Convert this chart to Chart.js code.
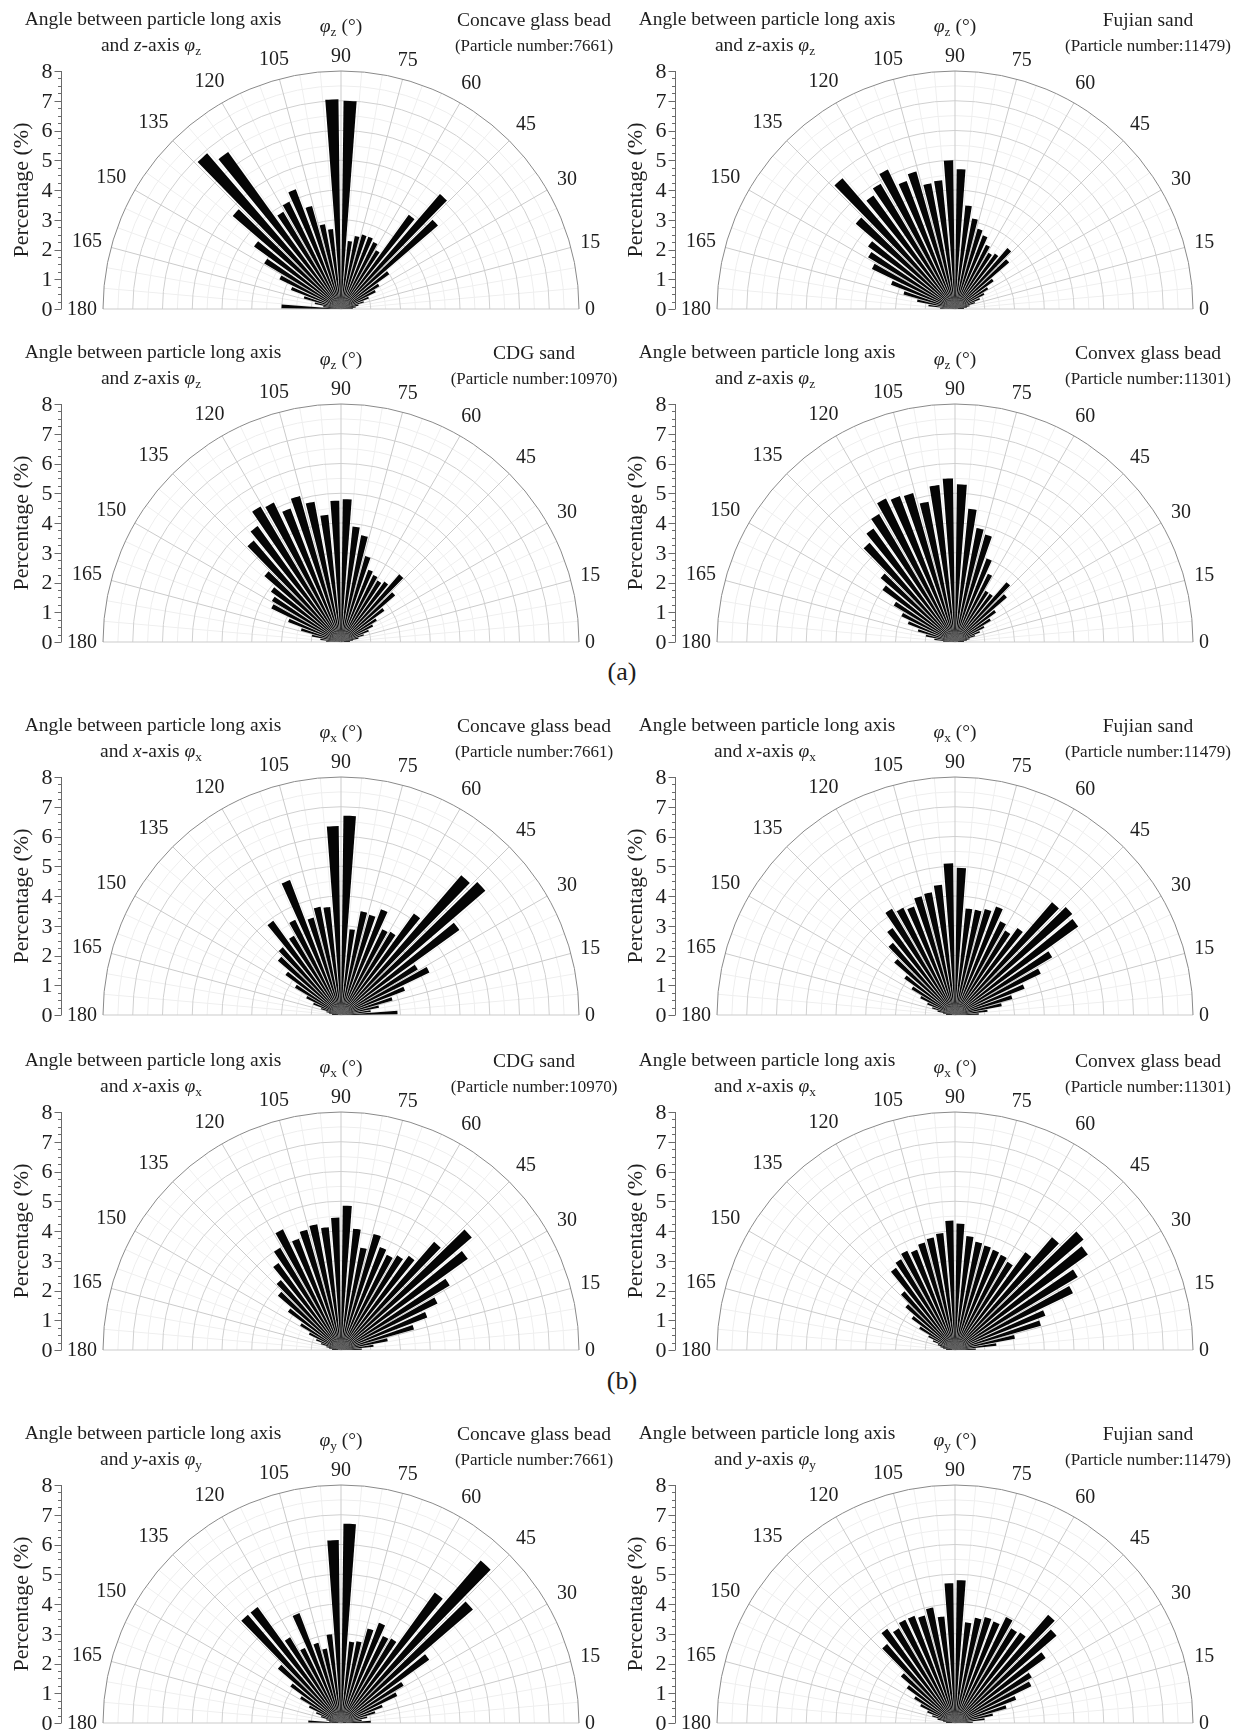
<!DOCTYPE html>
<html>
<head>
<meta charset="utf-8">
<script src="https://cdn.jsdelivr.net/npm/chart.js@4.4.1/dist/chart.umd.min.js"></script>
<style>
html, body { margin: 0; padding: 0; background: #fff; width: 1241px; height: 1733px; overflow: hidden; }
body { position: relative; font-family: "Liberation Serif", "Times New Roman", serif; color: #1e1e1e; }
canvas { position: absolute; }
.lbl { position: absolute; transform: translate(-50%, -50%); white-space: nowrap; line-height: 1; }
.big { font-size: 19.5px; }
.small { font-size: 17px; }
.fig { font-size: 26px; }
sub { font-size: 68%; vertical-align: -0.28em; line-height: 0; }
</style>
</head>
<body>
<script>
// bins of 5 degrees, 0..180
var binCentres = [2.5, 7.5, 12.5, 17.5, 22.5, 27.5, 32.5, 37.5, 42.5, 47.5, 52.5, 57.5,
                  62.5, 67.5, 72.5, 77.5, 82.5, 87.5, 92.5, 97.5, 102.5, 107.5, 112.5, 117.5,
                  122.5, 127.5, 132.5, 137.5, 142.5, 147.5, 152.5, 157.5, 162.5, 167.5, 172.5, 177.5];
var angleTicks = [0, 15, 30, 45, 60, 75, 90, 105, 120, 135, 150, 165, 180];
var pctTicks = [0, 1, 2, 3, 4, 5, 6, 7, 8];

// percentages, one value per bin (2.5 .. 177.5)
var concaveZ = [0.4, 0.5, 0.6, 0.8, 1.0, 1.3, 1.5, 2.0, 4.3, 5.1, 3.9, 2.3,
                2.5, 2.6, 2.6, 2.5, 2.3, 7.0, 7.05, 2.7, 2.9, 3.6, 4.3, 4.0,
                3.8, 6.5, 6.9, 4.8, 3.6, 3.0, 2.3, 1.8, 1.3, 0.9, 0.6, 2.0];
var fujianZ = [0.3, 0.4, 0.5, 0.7, 0.9, 1.1, 1.3, 1.6, 2.4, 2.7, 2.3, 2.2,
               2.4, 2.65, 2.8, 3.1, 3.5, 4.7, 5.0, 4.35, 4.3, 4.8, 4.6, 5.2,
               4.9, 4.7, 5.8, 4.4, 3.6, 3.4, 3.1, 2.3, 1.8, 1.3, 0.9, 0.5];
var cdgZ = [0.3, 0.4, 0.6, 0.8, 1.0, 1.2, 1.4, 1.8, 2.4, 3.0, 2.5, 2.4,
            2.5, 2.6, 3.0, 3.65, 3.9, 4.8, 4.75, 4.3, 4.8, 5.1, 4.8, 5.2,
            5.3, 4.8, 4.5, 3.4, 2.9, 2.7, 2.6, 1.9, 1.4, 1.0, 0.7, 0.5];
var convexZ = [0.3, 0.4, 0.5, 0.7, 0.9, 1.1, 1.4, 1.7, 2.3, 2.65, 2.0, 2.0,
               2.55, 3.0, 3.75, 3.9, 4.5, 5.3, 5.5, 5.3, 4.8, 5.2, 5.25, 5.35,
               5.0, 4.7, 4.4, 3.3, 3.0, 2.4, 2.0, 1.7, 1.3, 1.0, 0.7, 0.4];
var concaveX = [1.9, 1.0, 1.3, 1.8, 2.3, 3.3, 3.0, 4.9, 6.4, 6.2, 4.2, 3.25,
                3.2, 3.8, 3.5, 3.55, 2.9, 6.7, 6.35, 3.65, 3.7, 3.4, 4.85, 3.55,
                3.1, 3.9, 3.0, 2.8, 2.3, 1.8, 1.3, 1.0, 0.7, 0.5, 0.4, 0.3];
var fujianX = [0.8, 1.1, 1.6, 2.0, 2.5, 3.2, 3.8, 5.1, 5.2, 5.0, 3.6, 3.3,
               3.5, 3.9, 3.7, 3.6, 3.6, 4.95, 5.1, 4.4, 4.2, 4.15, 3.9, 4.0,
               4.15, 3.6, 3.2, 2.7, 2.1, 1.7, 1.3, 1.0, 0.8, 0.6, 0.4, 0.3];
var cdgX = [0.7, 1.1, 1.6, 2.55, 3.1, 3.6, 4.25, 5.25, 5.8, 4.8, 3.9, 3.7,
            3.55, 3.7, 4.05, 3.5, 4.1, 4.85, 4.45, 4.15, 4.3, 4.2, 4.0, 4.5,
            4.0, 3.6, 3.1, 2.8, 2.2, 1.6, 1.2, 0.9, 0.7, 0.5, 0.4, 0.3];
var convexX = [0.7, 1.4, 2.05, 3.0, 3.25, 4.4, 4.8, 5.5, 5.7, 5.0, 4.05, 3.45,
               3.55, 3.6, 3.65, 3.7, 3.85, 4.25, 4.35, 3.95, 3.85, 3.75, 3.6, 3.7,
               3.55, 3.4, 2.6, 2.2, 1.8, 1.4, 1.0, 0.8, 0.6, 0.5, 0.4, 0.3];
var concaveY = [1.0, 0.7, 0.9, 1.2, 1.5, 2.1, 2.45, 3.65, 5.85, 7.2, 5.4, 3.3,
                3.25, 3.6, 3.3, 2.8, 2.75, 6.7, 6.15, 3.0, 2.55, 2.8, 3.95, 2.8,
                3.35, 4.8, 4.8, 2.8, 2.1, 1.6, 1.2, 0.9, 0.7, 0.5, 0.4, 1.1];
var fujianY = [0.6, 1.0, 1.3, 1.8, 2.2, 2.85, 3.0, 3.75, 4.5, 4.8, 3.75, 3.7,
               3.95, 3.65, 3.7, 3.6, 3.4, 4.8, 4.7, 3.6, 3.95, 3.75, 3.85, 3.85,
               3.7, 3.9, 3.5, 2.4, 2.0, 1.6, 1.3, 1.0, 0.8, 0.6, 0.4, 0.3];

var panels = [
    { axis: 'z', name: 'Concave glass bead', count: '7661',  vals: concaveZ, col: 0, row: 0 },
    { axis: 'z', name: 'Fujian sand',        count: '11479', vals: fujianZ,  col: 1, row: 0 },
    { axis: 'z', name: 'CDG sand',           count: '10970', vals: cdgZ,     col: 0, row: 1 },
    { axis: 'z', name: 'Convex glass bead',  count: '11301', vals: convexZ,  col: 1, row: 1 },
    { axis: 'x', name: 'Concave glass bead', count: '7661',  vals: concaveX, col: 0, row: 2 },
    { axis: 'x', name: 'Fujian sand',        count: '11479', vals: fujianX,  col: 1, row: 2 },
    { axis: 'x', name: 'CDG sand',           count: '10970', vals: cdgX,     col: 0, row: 3 },
    { axis: 'x', name: 'Convex glass bead',  count: '11301', vals: convexX,  col: 1, row: 3 },
    { axis: 'y', name: 'Concave glass bead', count: '7661',  vals: concaveY, col: 0, row: 4 },
    { axis: 'y', name: 'Fujian sand',        count: '11479', vals: fujianY,  col: 1, row: 4 }
];

// page layout (pixels)
var colX = [341, 955];
var rowY = [309, 641.7, 1015, 1350, 1723];
var R = 238;          // radius for 8 %
var CX = 341, CY = 310, W = 613, H = 324;
var BAR = 3.6, GAP = 1.4;
var FONT = '"Liberation Serif", "Times New Roman", serif';

var halfFrame = {
    id: 'halfFrame',
    beforeDatasetsDraw: function (chart) {
        var s = chart.scales.r, ctx = chart.ctx;
        var x0 = s.xCenter, y0 = s.yCenter;
        function rad(v) { return s.getDistanceFromCenterForValue(v); }
        function half(r, col) {
            ctx.strokeStyle = col;
            ctx.beginPath();
            ctx.arc(x0, y0, r, Math.PI, 2 * Math.PI);
            ctx.stroke();
        }
        ctx.save();
        ctx.lineWidth = 1;
        for (var v = 0.5; v < 8; v += 1) half(rad(v), '#eeeeee');
        for (var a = 5; a < 180; a += 5) {
            if (a % 15 === 0) continue;
            var t = a * Math.PI / 180;
            ctx.strokeStyle = '#efefef';
            ctx.beginPath();
            ctx.moveTo(x0, y0);
            ctx.lineTo(x0 + rad(8) * Math.cos(t), y0 - rad(8) * Math.sin(t));
            ctx.stroke();
        }
        for (var k = 1; k < pctTicks.length - 1; k++) half(rad(pctTicks[k]), '#d0d0d0');
        angleTicks.forEach(function (a) {
            var t = a * Math.PI / 180;
            ctx.strokeStyle = '#cbcbcb';
            ctx.beginPath();
            ctx.moveTo(x0, y0);
            ctx.lineTo(x0 + rad(8) * Math.cos(t), y0 - rad(8) * Math.sin(t));
            ctx.stroke();
        });
        half(rad(8), '#8a8a8a');
        ctx.restore();
    },
    afterDraw: function (chart) {
        var s = chart.scales.r, ctx = chart.ctx;
        var x0 = s.xCenter, y0 = s.yCenter;
        function rad(v) { return s.getDistanceFromCenterForValue(v); }
        ctx.save();
        // left percentage axis
        var ax = x0 - 279.5;
        ctx.strokeStyle = '#6a6a6a';
        ctx.lineWidth = 1;
        ctx.beginPath();
        ctx.moveTo(ax, y0 - rad(8));
        ctx.lineTo(ax, y0);
        ctx.stroke();
        for (var m = 0; m <= 32; m++) {
            var yy = Math.round(y0 - rad(m / 4)) + 0.5;
            var len = m % 4 === 0 ? 7 : 3.5;
            ctx.beginPath();
            ctx.moveTo(ax - len, yy);
            ctx.lineTo(ax, yy);
            ctx.stroke();
        }
        ctx.fillStyle = '#1e1e1e';
        ctx.font = '22px ' + FONT;
        ctx.textAlign = 'right';
        ctx.textBaseline = 'middle';
        pctTicks.forEach(function (v) {
            ctx.fillText(String(v), ax - 9, y0 - rad(v) + 1);
        });
        // axis title
        ctx.save();
        ctx.translate(x0 - 319, y0 - rad(4));
        ctx.rotate(-Math.PI / 2);
        ctx.textAlign = 'center';
        ctx.font = '22px ' + FONT;
        ctx.fillText('Percentage (%)', 0, 0);
        ctx.restore();
        // angle labels round the arc
        ctx.font = '20px ' + FONT;
        ctx.textAlign = 'center';
        angleTicks.forEach(function (a) {
            var t = a * Math.PI / 180;
            var txt = String(a);
            var w = ctx.measureText(txt).width;
            var c = Math.abs(Math.cos(t)), sn = Math.abs(Math.sin(t));
            var d = rad(8) + 6 + 4 * Math.abs(Math.sin(2 * t)) + c * w / 2 + sn * 9.5;
            ctx.fillText(txt, x0 + d * Math.cos(t), y0 - d * Math.sin(t) + 1);
        });
        ctx.restore();
    }
};

function addLabel(html, x, y, cls) {
    var d = document.createElement('div');
    d.className = 'lbl ' + cls;
    d.style.left = x + 'px';
    d.style.top = y + 'px';
    d.innerHTML = html;
    document.body.appendChild(d);
}

function makePanel(p) {
    var cx = colX[p.col], cy = rowY[p.row];
    var cv = document.createElement('canvas');
    cv.width = W;
    cv.height = H;
    cv.style.left = (cx - CX) + 'px';
    cv.style.top = (cy - CY) + 'px';
    document.body.appendChild(cv);

    // arcs run clockwise from 180 deg: one bar then one empty gap per bin
    var data = [], labels = [];
    for (var i = p.vals.length - 1; i >= 0; i--) {
        data.push(p.vals[i], 0);
        labels.push(String(binCentres[i]), '');
    }

    new Chart(cv, {
        type: 'polarArea',
        data: {
            labels: labels,
            datasets: [{
                data: data,
                backgroundColor: '#050505',
                borderWidth: 0,
                angle: function (c) { return c.dataIndex % 2 ? GAP : BAR; }
            }]
        },
        options: {
            responsive: false,
            animation: false,
            layout: { padding: 0 },
            plugins: { legend: { display: false }, tooltip: { enabled: false } },
            scales: {
                r: {
                    min: 0,
                    max: 8,
                    startAngle: 270 + GAP / 2,
                    ticks: { display: false },
                    grid: { display: false },
                    angleLines: { display: false },
                    pointLabels: { display: false },
                    afterFit: function (s) {
                        s.xCenter = CX;
                        s.yCenter = CY;
                        s.drawingArea = R;
                    }
                }
            }
        },
        plugins: [halfFrame]
    });

    var ax = p.axis;
    addLabel('Angle between particle long axis', cx - 188, cy - 290, 'big');
    addLabel('and <i>' + ax + '</i>-axis <i>\u03c6</i><sub>' + ax + '</sub>', cx - 190, cy - 264, 'big');
    addLabel('<i>\u03c6</i><sub>' + ax + '</sub> (\u00b0)', cx, cy - 283, 'big');
    addLabel(p.name, cx + 193, cy - 289, 'big');
    addLabel('(Particle number:' + p.count + ')', cx + 193, cy - 264, 'small');
}

panels.forEach(makePanel);
addLabel('(a)', 622, 672, 'fig');
addLabel('(b)', 622, 1381, 'fig');
</script>
</body>
</html>
